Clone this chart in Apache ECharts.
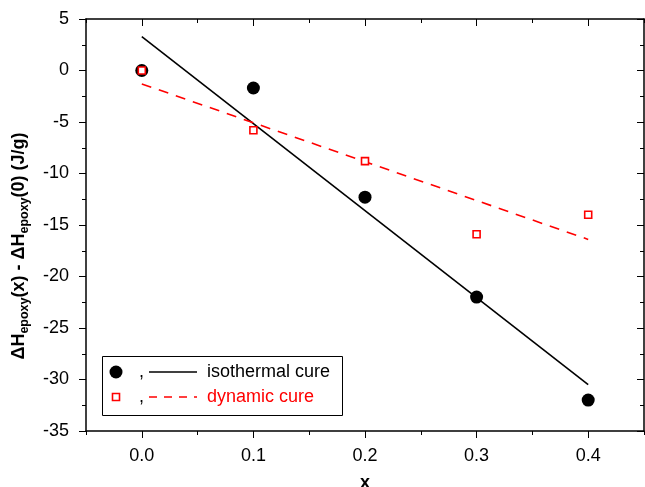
<!DOCTYPE html>
<html>
<head>
<meta charset="utf-8">
<script src="https://cdn.jsdelivr.net/npm/echarts@6/dist/echarts.min.js"></script>
<style>
  html, body { margin: 0; padding: 0; background: #fff; }
  #chart { width: 645px; height: 487px; }
</style>
</head>
<body>
<div id="chart"></div>
<script>
// Enthalpy change of epoxy cure vs. x
const xMajorTicks = [0, 0.1, 0.2, 0.3, 0.4];
const xMinorTicks = [-0.05, 0.05, 0.15, 0.25, 0.35, 0.45];

const isoX = [0, 0.1, 0.2, 0.3, 0.4];
const isoY = [0, -1.7, -12.3, -22.0, -32.0];
const dynX = [0, 0.1, 0.2, 0.3, 0.4];
const dynY = [0, -5.8, -8.8, -15.9, -14.0];

// straight-line fits drawn through their end points
const isoFitX = [0, 0.4];
const isoFitY = [3.3, -30.5];
const dynFitX = [0, 0.4];
const dynFitY = [-1.3, -16.4];

const FONT = "'Liberation Sans', Arial, Helvetica, sans-serif";
const pairs = (xs, ys) => xs.map((x, i) => [x, ys[i]]);

const chart = echarts.init(document.getElementById('chart'), null, { renderer: 'canvas' });

const axisLine = { show: true, onZero: false, lineStyle: { color: '#000', width: 1.5 } };
const noLine = { show: false, onZero: false };
const xRange = { type: 'value', min: -0.05, max: 0.45, splitLine: { show: false } };
const yRange = { type: 'value', min: -35, max: 5, interval: 5, splitLine: { show: false } };

chart.setOption({
  animation: false,
  backgroundColor: '#fff',
  grid: { left: 86, right: 1, top: 19, bottom: 56, containLabel: false, outerBoundsMode: 'none' },
  xAxis: [
    Object.assign({}, xRange, {
      position: 'bottom',
      axisLine: axisLine,
      axisTick: { show: true, inside: false, length: 7, customValues: xMajorTicks, lineStyle: { color: '#000', width: 1 } },
      axisLabel: { show: true, customValues: xMajorTicks, formatter: v => v.toFixed(1), fontSize: 18, color: '#000', fontFamily: FONT, margin: 16 },
      name: 'x', nameLocation: 'middle', nameGap: 43,
      nameTextStyle: { fontSize: 18, fontWeight: 'bold', color: '#000', fontFamily: FONT }
    }),
    Object.assign({}, xRange, {
      position: 'bottom',
      axisLine: noLine,
      axisTick: { show: true, inside: false, length: 4, customValues: xMinorTicks, lineStyle: { color: '#000', width: 1 } },
      axisLabel: { show: false }
    }),
    Object.assign({}, xRange, {
      position: 'top',
      axisLine: axisLine,
      axisTick: { show: true, inside: true, length: 7, customValues: xMajorTicks, lineStyle: { color: '#000', width: 1 } },
      axisLabel: { show: false }
    }),
    Object.assign({}, xRange, {
      position: 'top',
      axisLine: noLine,
      axisTick: { show: true, inside: true, length: 4, customValues: xMinorTicks, lineStyle: { color: '#000', width: 1 } },
      axisLabel: { show: false }
    })
  ],
  yAxis: [
    Object.assign({}, yRange, {
      position: 'left',
      axisLine: axisLine,
      axisTick: { show: true, inside: false, length: 7, lineStyle: { color: '#000', width: 1 } },
      minorTick: { show: true, splitNumber: 2, length: 4, lineStyle: { color: '#000', width: 1 } },
      minorSplitLine: { show: false },
      axisLabel: { show: true, fontSize: 18, color: '#000', fontFamily: FONT, margin: 17 },
      name: '{b|ΔH}{s|epoxy}{b|(x) - ΔH}{s|epoxy}{b|(0) (J/g)}',
      nameLocation: 'middle', nameRotate: 90, nameGap: 55,
      nameTextStyle: {
        color: '#000', fontFamily: FONT,
        padding: [0, 42, 0, 0],
        rich: {
          b: { fontSize: 18, fontWeight: 'bold', fontFamily: FONT, color: '#000', lineHeight: 24 },
          s: { fontSize: 12.5, fontWeight: 'bold', fontFamily: FONT, color: '#000', lineHeight: 16, verticalAlign: 'bottom' }
        }
      }
    }),
    Object.assign({}, yRange, {
      position: 'right',
      axisLine: axisLine,
      axisTick: { show: true, inside: true, length: 7, lineStyle: { color: '#000', width: 1 } },
      minorTick: { show: true, splitNumber: 2, length: 4, lineStyle: { color: '#000', width: 1 } },
      minorSplitLine: { show: false },
      axisLabel: { show: false }
    })
  ],
  series: [
    {
      name: 'isothermal fit', type: 'line', data: pairs(isoFitX, isoFitY),
      showSymbol: false, symbol: 'none', z: 1,
      lineStyle: { color: '#000', width: 1.6, type: 'solid' }
    },
    {
      name: 'dynamic fit', type: 'line', data: pairs(dynFitX, dynFitY),
      showSymbol: false, symbol: 'none', z: 1,
      lineStyle: { color: '#ff0000', width: 1.6, type: [10, 8] }
    },
    {
      name: 'isothermal cure', type: 'scatter', data: pairs(isoX, isoY),
      symbol: 'circle', symbolSize: 13, z: 3,
      itemStyle: { color: '#000', opacity: 1 }
    },
    {
      name: 'dynamic cure', type: 'scatter', data: pairs(dynX, dynY),
      symbol: 'rect', symbolSize: 7, z: 4,
      itemStyle: { color: '#fff', borderColor: '#ff0000', borderWidth: 1.6, opacity: 1 }
    }
  ],
  graphic: [
    { type: 'rect', shape: { x: 102.5, y: 356.5, width: 240, height: 59 }, style: { fill: '#fff', stroke: '#000', lineWidth: 1 }, z: 10 },
    { type: 'circle', shape: { cx: 116, cy: 372, r: 6.5 }, style: { fill: '#000' }, z: 11 },
    { type: 'text', x: 139, y: 372, style: { text: ',', fontSize: 18, fontFamily: FONT, fill: '#000', verticalAlign: 'middle' }, z: 11 },
    { type: 'line', shape: { x1: 149, y1: 372, x2: 197, y2: 372 }, style: { stroke: '#000', lineWidth: 1.6 }, z: 11 },
    { type: 'text', x: 207, y: 372, style: { text: 'isothermal cure', fontSize: 18, fontFamily: FONT, fill: '#000', verticalAlign: 'middle' }, z: 11 },
    { type: 'rect', shape: { x: 112.5, y: 393.5, width: 7, height: 7 }, style: { fill: '#fff', stroke: '#ff0000', lineWidth: 1.6 }, z: 11 },
    { type: 'text', x: 139, y: 397, style: { text: ',', fontSize: 18, fontFamily: FONT, fill: '#000', verticalAlign: 'middle' }, z: 11 },
    { type: 'line', shape: { x1: 149, y1: 397, x2: 197, y2: 397 }, style: { stroke: '#ff0000', lineWidth: 1.6, lineDash: [8, 7] }, z: 11 },
    { type: 'text', x: 207, y: 397, style: { text: 'dynamic cure', fontSize: 18, fontFamily: FONT, fill: '#ff0000', verticalAlign: 'middle' }, z: 11 }
  ]
});
</script>
</body>
</html>
